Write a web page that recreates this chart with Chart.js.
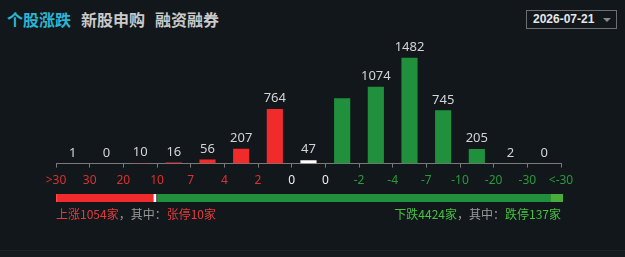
<!DOCTYPE html>
<html>
<head>
<meta charset="utf-8">
<script src="https://cdn.jsdelivr.net/npm/chart.js@4.4.1/dist/chart.umd.min.js"></script>
<style>
  html, body { margin: 0; padding: 0; background: #12171b; width: 625px; height: 257px; overflow: hidden; }
  body { position: relative; font-family: "Noto Sans CJK SC", "Noto Sans", sans-serif; }
  #hdr { position: absolute; left: 7px; top: 8px; font-size: 16px; font-weight: bold; white-space: nowrap; line-height: 22px; }
  #hdr span { margin-right: 10px; color: #c9c9c9; }
  #hdr span.on { color: #2bb5d3; }
  #date { position: absolute; left: 526px; top: 10px; width: 89px; height: 17px; border: 1px solid #6f6f6f; box-sizing: content-box; }
  #date .t { position: absolute; left: 6px; top: 0; font-family: "Liberation Sans", Arial, sans-serif; font-size: 12px; font-weight: bold; line-height: 17px; color: #e6e6e6; }
  #date .tri { position: absolute; left: 76px; top: 7px; width: 0; height: 0; border-left: 4px solid transparent; border-right: 4px solid transparent; border-top: 4px solid #8a8a8a; }
  #main { position: absolute; left: 0; top: 0; width: 625px; height: 200px; }
  #prog { position: absolute; left: 56px; top: 194px; width: 507px; height: 8px; }
  .foot { position: absolute; top: 205px; font-size: 12px; line-height: 18px; white-space: nowrap; }
  #fl { left: 56px; }
  #fr { right: 64px; }
  .r { color: #e23b3b; } .g { color: #46c23f; } .gr { color: #9a9a9a; }
  #bl { position: absolute; left: 0; top: 250px; width: 625px; height: 1px; background: #1d2227; }
  #bb { position: absolute; left: 0; top: 251px; width: 625px; height: 6px; background: #151a1f; }
</style>
</head>
<body>
<div id="hdr"><span class="on">个股涨跌</span><span>新股申购</span><span>融资融券</span></div>
<div id="date"><div class="t">2026-07-21</div><div class="tri"></div></div>
<div id="main"><canvas id="c1"></canvas></div>
<div id="prog"><canvas id="c2"></canvas></div>
<div class="foot" id="fl"><span class="r">上涨1054家</span><span class="gr">，其中：</span><span class="r">张停10家</span></div>
<div class="foot" id="fr"><span class="g">下跌4424家</span><span class="gr">，其中：</span><span class="g">跌停137家</span></div>
<div id="bl"></div><div id="bb"></div>
<script>
// ---- data ----
const tickLabels = ['>30', '30', '20', '10', '7', '4', '2', '0', '0', '-2', '-4', '-7', '-10', '-20', '-30', '<-30'];
const counts = [1, 0, 10, 16, 56, 207, 764, 47, 916, 1074, 1482, 745, 205, 2, 0];
const countLabels = ['1', '0', '10', '16', '56', '207', '764', '47', '', '1074', '1482', '745', '205', '2', '0'];
const upCount = 1054;
const limitUpCount = 10;
const flatCount = 47;
const downCount = 4424;
const limitDownCount = 137;

// ---- styles ----
const RED = '#f12b2b', WHITE = '#ffffff', GREEN = '#21903c';
const upBars = 7; // first bars are rising buckets, then one flat, then falling
function barColor(i) { return i < upBars ? RED : (i === upBars ? WHITE : GREEN); }
function tickColor(i) { return i < upBars ? '#d9322f' : (i <= upBars + 1 ? '#f0f0f0' : '#2b9a3b'); }

const points = counts.map((v, i) => ({ x: i + 0.5, y: v }));

const valueLabelPlugin = {
  id: 'valueLabels',
  afterDatasetsDraw(chart) {
    const ctx = chart.ctx;
    const meta = chart.getDatasetMeta(0);
    ctx.save();
    ctx.font = '13px "Noto Sans", "DejaVu Sans", sans-serif';
    ctx.fillStyle = '#d4d4d4';
    ctx.textAlign = 'center';
    ctx.textBaseline = 'bottom';
    meta.data.forEach((bar, i) => {
      const t = countLabels[i];
      if (t) ctx.fillText(t, bar.x, bar.y - 4);
    });
    ctx.restore();
  }
};

new Chart(document.getElementById('c1'), {
  type: 'bar',
  data: {
    datasets: [{
      data: points,
      backgroundColor: counts.map((_, i) => barColor(i)),
      barPercentage: 0.48,
      categoryPercentage: 1,
      borderWidth: 0
    }]
  },
  options: {
    responsive: true,
    maintainAspectRatio: false,
    animation: false,
    layout: { padding: { left: 56, right: 64, top: 40, bottom: 6 } },
    plugins: { legend: { display: false }, tooltip: { enabled: false } },
    scales: {
      x: {
        type: 'linear', min: 0, max: 15, offset: false,
        afterBuildTicks(scale) { scale.ticks = tickLabels.map((_, i) => ({ value: i })); },
        ticks: {
          autoSkip: false, maxRotation: 0, padding: 6,
          font: { size: 12, family: '"Noto Sans", "DejaVu Sans", sans-serif' },
          color: (c) => tickColor(c.index),
          callback: (v, i) => tickLabels[i]
        },
        grid: { display: true, offset: false, drawOnChartArea: false, drawTicks: true, tickLength: 4, color: '#7a7a7a' },
        border: { display: true, color: '#7a7a7a' }
      },
      y: { display: false, min: 0, max: 1730 }
    }
  },
  plugins: [valueLabelPlugin]
});

// progress bar of up / flat / down
const segs = [
  { v: limitUpCount, c: '#ff4a4a' },
  { v: upCount - limitUpCount, c: RED },
  { v: flatCount, c: WHITE, b: true },
  { v: downCount - limitDownCount, c: GREEN },
  { v: limitDownCount, c: '#4aac3a' }
];
const total = upCount + flatCount + downCount;
new Chart(document.getElementById('c2'), {
  type: 'bar',
  data: {
    labels: [''],
    datasets: segs.map(s => ({
      data: [s.v], backgroundColor: s.c,
      borderColor: '#12171b',
      borderWidth: s.b ? { left: 1, right: 1, top: 0, bottom: 0 } : 0,
      borderSkipped: false,
      barPercentage: 1, categoryPercentage: 1
    }))
  },
  options: {
    indexAxis: 'y',
    responsive: true, maintainAspectRatio: false, animation: false,
    layout: { padding: 0 },
    plugins: { legend: { display: false }, tooltip: { enabled: false } },
    scales: {
      x: { display: false, stacked: true, min: 0, max: total },
      y: { display: false, stacked: true }
    }
  }
});
</script>
</body>
</html>
